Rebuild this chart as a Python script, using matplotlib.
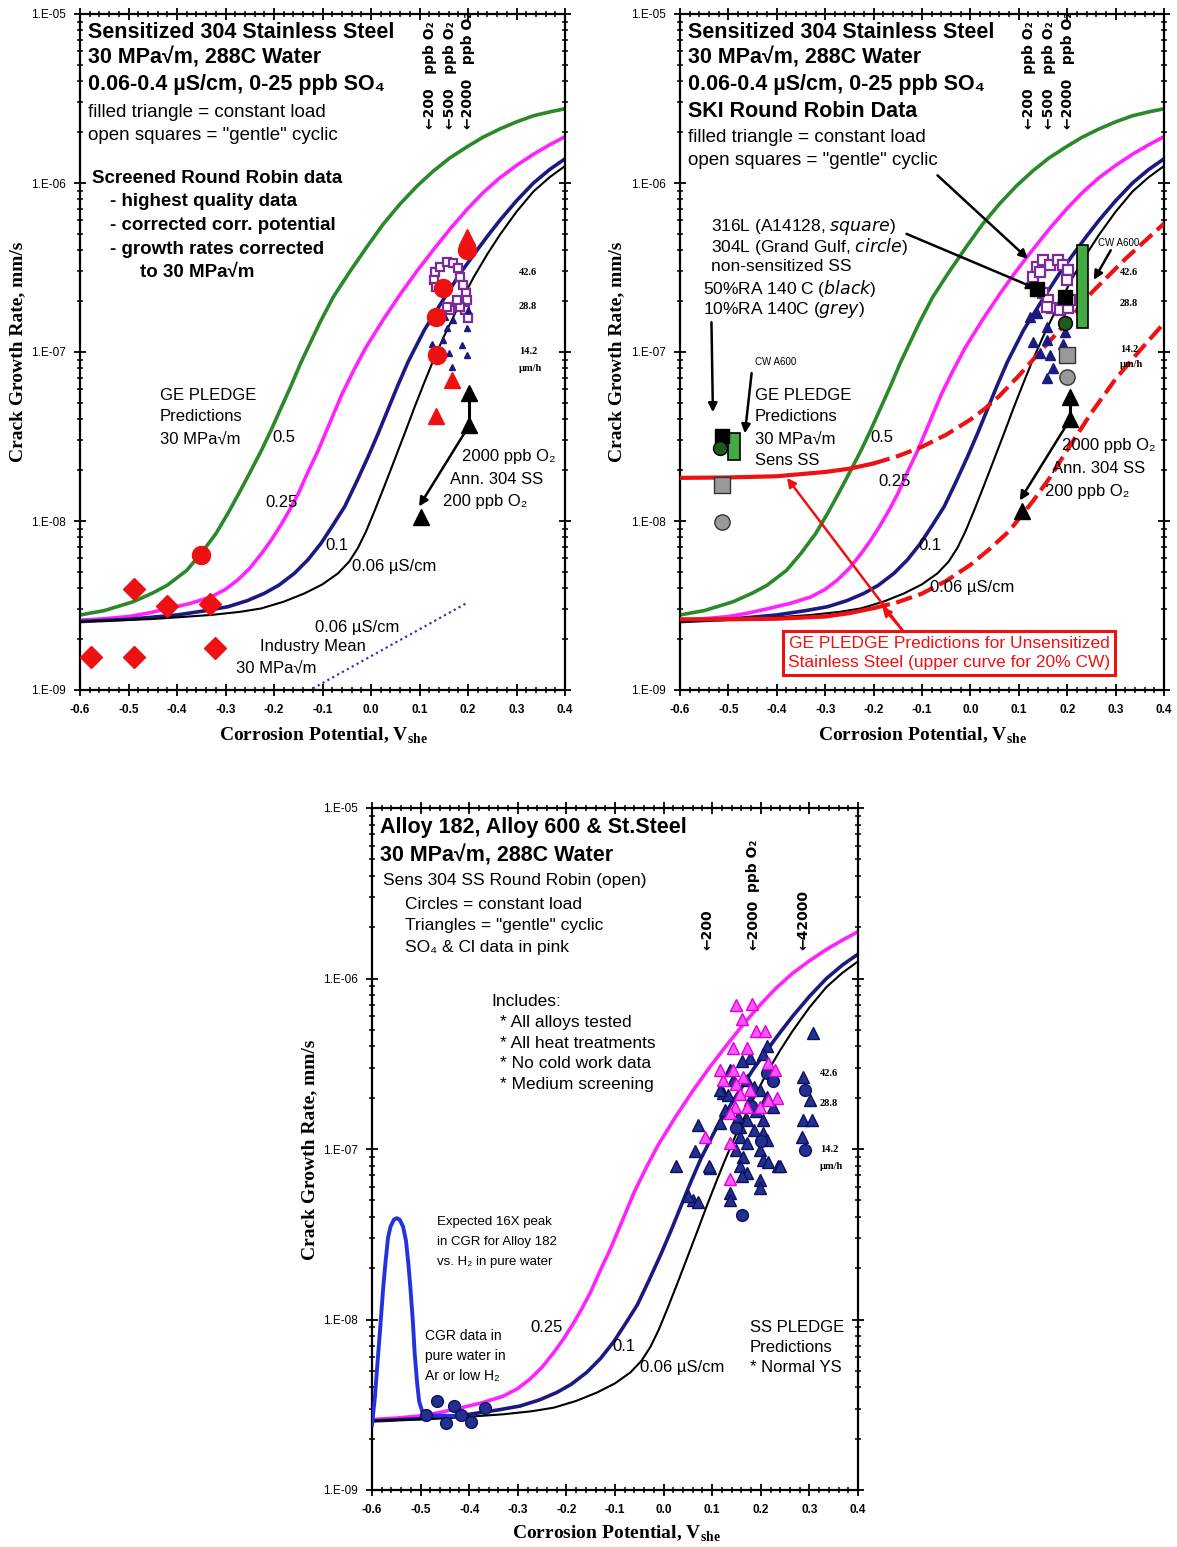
import matplotlib
matplotlib.use("Agg")
import matplotlib.pyplot as plt
from matplotlib.ticker import LogLocator, MultipleLocator, NullFormatter

plt.rcParams['font.family'] = ['Liberation Sans', 'DejaVu Sans']

# GE PLEDGE predictions, 30 MPa sqrt(m), per conductivity (uS/cm)
v_05 = [-0.6, -0.55, -0.49, -0.45, -0.42, -0.38, -0.35, -0.32, -0.295, -0.27, -0.247, -0.225, -0.206,
        -0.185, -0.165, -0.145, -0.128, -0.105, -0.078, -0.045, -0.009, 0.025, 0.06, 0.095, 0.129,
        0.163, 0.197, 0.23, 0.266, 0.3, 0.335, 0.37, 0.4]
cgr_05 = [2.78e-9, 2.95e-9, 3.33e-9, 3.75e-9, 4.17e-9, 5.10e-9, 6.44e-9, 8.40e-9, 1.11e-8, 1.50e-8,
          2.00e-8, 2.65e-8, 3.45e-8, 4.70e-8, 6.30e-8, 8.60e-8, 1.09e-7, 1.50e-7, 2.11e-7, 2.95e-7,
          4.17e-7, 5.70e-7, 7.52e-7, 9.60e-7, 1.18e-6, 1.41e-6, 1.63e-6, 1.86e-6, 2.09e-6, 2.30e-6,
          2.50e-6, 2.64e-6, 2.75e-6]
v_025 = [-0.6, -0.55, -0.5, -0.46, -0.42, -0.375, -0.33, -0.3, -0.275, -0.25, -0.225, -0.205, -0.185,
         -0.168, -0.15, -0.13, -0.11, -0.085, -0.06, -0.035, -0.01, 0.025, 0.06, 0.095, 0.13, 0.165,
         0.2, 0.232, 0.265, 0.3, 0.335, 0.368, 0.4]
cgr_025 = [2.59e-9, 2.64e-9, 2.72e-9, 2.85e-9, 3.02e-9, 3.24e-9, 3.55e-9, 3.94e-9, 4.47e-9, 5.25e-9,
           6.46e-9, 7.76e-9, 9.55e-9, 1.16e-8, 1.45e-8, 1.95e-8, 2.57e-8, 3.80e-8, 5.62e-8, 7.85e-8,
           1.07e-7, 1.55e-7, 2.19e-7, 3.02e-7, 4.07e-7, 5.43e-7, 7.08e-7, 8.81e-7, 1.07e-6, 1.27e-6,
           1.48e-6, 1.68e-6, 1.88e-6]
v_01 = [-0.6, -0.5, -0.4, -0.34, -0.295, -0.255, -0.22, -0.19, -0.158, -0.13, -0.103, -0.078, -0.054,
        -0.03, -0.006, 0.015, 0.035, 0.055, 0.077, 0.11, 0.149, 0.185, 0.218, 0.24, 0.266, 0.3, 0.335,
        0.368, 0.4]
cgr_01 = [2.54e-9, 2.62e-9, 2.78e-9, 2.95e-9, 3.11e-9, 3.38e-9, 3.73e-9, 4.17e-9, 4.90e-9, 5.90e-9,
          7.38e-9, 9.50e-9, 1.22e-8, 1.70e-8, 2.40e-8, 3.31e-8, 4.57e-8, 6.31e-8, 8.81e-8, 1.35e-7,
          2.04e-7, 2.95e-7, 3.98e-7, 4.84e-7, 6.03e-7, 7.85e-7, 1.00e-6, 1.20e-6, 1.39e-6]
v_006 = [-0.6, -0.45, -0.33, -0.27, -0.226, -0.18, -0.137, -0.1, -0.068, -0.045, -0.027, -0.01, 0.008,
         0.028, 0.049, 0.07, 0.09, 0.11, 0.127, 0.15, 0.177, 0.211, 0.24, 0.266, 0.3, 0.335, 0.368, 0.4]
cgr_006 = [2.54e-9, 2.63e-9, 2.78e-9, 2.90e-9, 3.04e-9, 3.33e-9, 3.73e-9, 4.22e-9, 4.90e-9, 5.75e-9,
           6.92e-9, 8.71e-9, 1.16e-8, 1.62e-8, 2.32e-8, 3.33e-8, 4.73e-8, 6.61e-8, 8.71e-8, 1.23e-7,
           1.78e-7, 2.75e-7, 3.80e-7, 4.95e-7, 6.76e-7, 8.91e-7, 1.08e-6, 1.26e-6]

# industry mean line, 0.06 uS/cm
v_ind = [-0.17, 0.2]
cgr_ind = [8.5e-10, 3.3e-9]

# panel 1: screened round robin data
diam_v = [-0.577, -0.489, -0.322, -0.489, -0.42, -0.331]
diam_cgr = [1.57e-9, 1.57e-9, 1.77e-9, 3.94e-9, 3.14e-9, 3.21e-9]
rcirc_v = [-0.35, 0.149, 0.135, 0.137, 0.197]
rcirc_cgr = [6.3e-9, 2.38e-7, 1.62e-7, 9.6e-8, 4.0e-7]
rtri_v = [0.197, 0.166, 0.135]
rtri_cgr = [4.8e-7, 6.8e-8, 4.2e-8]
ann_v = [0.104, 0.203, 0.203]
ann_cgr = [1.06e-8, 5.7e-8, 3.7e-8]
sq1_v = [0.132, 0.142, 0.156, 0.170, 0.180, 0.129, 0.135, 0.184, 0.190, 0.196,
         0.197, 0.194, 0.184, 0.163, 0.177, 0.201, 0.156]
sq1_cgr = [2.99e-7, 3.20e-7, 3.42e-7, 3.35e-7, 3.13e-7, 2.67e-7, 2.41e-7, 2.79e-7, 2.49e-7, 2.22e-7,
           2.03e-7, 1.77e-7, 1.85e-7, 1.77e-7, 2.03e-7, 1.58e-7, 1.85e-7]
tri1_v = [0.201, 0.197, 0.156, 0.149, 0.125, 0.187, 0.160, 0.197, 0.166, 0.153, 0.170]
tri1_cgr = [1.77e-7, 1.38e-7, 1.38e-7, 1.18e-7, 1.12e-7, 1.10e-7, 9.8e-8, 9.6e-8, 8.2e-8, 1.62e-7, 1.55e-7]

# panel 2: SKI round robin + unsensitized SS
sq2_v = [0.137, 0.151, 0.165, 0.182, 0.192, 0.202, 0.130, 0.144, 0.199, 0.151,
         0.161, 0.168, 0.185, 0.202, 0.206, 0.158]
sq2_cgr = [3.20e-7, 3.50e-7, 3.27e-7, 3.50e-7, 3.27e-7, 3.05e-7, 2.79e-7, 2.99e-7, 2.67e-7, 2.22e-7,
           2.03e-7, 1.81e-7, 1.77e-7, 1.81e-7, 2.03e-7, 1.85e-7]
tri2_v = [0.123, 0.137, 0.158, 0.130, 0.158, 0.192, 0.144, 0.165, 0.171, 0.158, 0.196]
tri2_cgr = [1.62e-7, 1.69e-7, 1.41e-7, 1.15e-7, 1.18e-7, 1.12e-7, 9.8e-8, 9.6e-8, 8.0e-8, 7.0e-8, 1.32e-7]
ann2_v = [0.107, 0.206, 0.206]
ann2_cgr = [1.15e-8, 5.4e-8, 4.0e-8]
blk_sq_v = [-0.514, 0.196, 0.138]
blk_sq_cgr = [3.2e-8, 2.12e-7, 2.37e-7]
dkg_circ_v = [-0.517, 0.196]
dkg_circ_cgr = [2.7e-8, 1.48e-7]
grey_sq_v = [-0.514, 0.199]
grey_sq_cgr = [1.63e-8, 9.6e-8]
grey_circ_v = [-0.514, 0.199]
grey_circ_cgr = [9.8e-9, 7.1e-8]
cw_v = [-0.489, 0.232]
cw_lo = [2.3e-8, 1.38e-7]
cw_hi = [3.3e-8, 4.3e-7]
uns_cw_v = [-0.6, -0.5, -0.4, -0.3, -0.25, -0.2, -0.15, -0.1, -0.05, 0.0, 0.03, 0.06, 0.1, 0.15, 0.2,
            0.25, 0.285, 0.32, 0.36, 0.4]
uns_cw_cgr = [1.80e-8, 1.81e-8, 1.84e-8, 1.95e-8, 2.04e-8, 2.19e-8, 2.42e-8, 2.75e-8, 3.24e-8, 3.98e-8,
              4.62e-8, 5.50e-8, 7.24e-8, 1.05e-7, 1.51e-7, 2.24e-7, 2.82e-7, 3.55e-7, 4.52e-7, 5.75e-7]
uns_v = [-0.6, -0.5, -0.4, -0.3, -0.25, -0.2, -0.15, -0.1, -0.05, 0.0, 0.04, 0.08, 0.13, 0.165, 0.2,
         0.225, 0.25, 0.275, 0.3, 0.325, 0.35, 0.375, 0.4]
uns_cgr = [2.62e-9, 2.62e-9, 2.64e-9, 2.72e-9, 2.85e-9, 3.05e-9, 3.31e-9, 3.72e-9, 4.42e-9, 5.50e-9,
           6.84e-9, 8.71e-9, 1.32e-8, 1.82e-8, 2.63e-8, 3.39e-8, 4.37e-8, 5.50e-8, 6.92e-8, 8.41e-8,
           1.02e-7, 1.23e-7, 1.48e-7]

# panel 3: Alloy 182 / 600 / SS
peak_v = [-0.6, -0.594, -0.589, -0.583, -0.577, -0.572, -0.567, -0.562, -0.555, -0.549, -0.543, -0.536,
          -0.53, -0.525, -0.521, -0.516, -0.512, -0.507, -0.503, -0.496, -0.49, -0.43]
peak_cgr = [2.41e-9, 3.5e-9, 5.43e-9, 9.0e-9, 1.53e-8, 2.2e-8, 3.02e-8, 3.5e-8, 3.85e-8, 3.93e-8, 3.85e-8,
            3.5e-8, 2.89e-8, 2.1e-8, 1.53e-8, 9.8e-9, 6.22e-9, 4.2e-9, 3.31e-9, 2.85e-9, 2.74e-9, 2.72e-9]
pink_v = [0.150, 0.181, 0.161, 0.191, 0.209, 0.143, 0.171, 0.215, 0.229, 0.143, 0.164, 0.150, 0.157,
          0.147, 0.171, 0.137, 0.233, 0.215, 0.198, 0.085, 0.137, 0.137, 0.123, 0.178, 0.116]
pink_cgr = [7.0e-7, 7.1e-7, 5.8e-7, 4.9e-7, 4.9e-7, 3.9e-7, 3.9e-7, 3.2e-7, 2.9e-7, 2.9e-7, 2.65e-7, 2.4e-7,
            2.1e-7, 1.77e-7, 1.77e-7, 1.62e-7, 2.0e-7, 1.94e-7, 1.77e-7, 1.18e-7, 1.08e-7, 6.7e-8,
            2.54e-7, 2.22e-7, 2.9e-7]
navy_tri_v = [0.308, 0.287, 0.301, 0.287, 0.305, 0.284, 0.071, 0.065, 0.095, 0.061, 0.071, 0.137, 0.137,
              0.198, 0.198, 0.236, 0.212, 0.205, 0.178, 0.161, 0.137, 0.123, 0.133, 0.171, 0.185, 0.198,
              0.212, 0.226, 0.178, 0.191, 0.154, 0.171, 0.205, 0.157, 0.185, 0.205, 0.157, 0.212, 0.171,
              0.150, 0.198, 0.164, 0.205, 0.157, 0.171, 0.116, 0.126, 0.143, 0.116, 0.215, 0.161, 0.025,
              0.051, 0.093, 0.239]
navy_tri_cgr = [4.8e-7, 2.65e-7, 1.94e-7, 1.48e-7, 1.48e-7, 1.18e-7, 1.38e-7, 9.7e-8, 7.7e-8, 5.0e-8, 4.9e-8,
                5.5e-8, 5.0e-8, 6.6e-8, 5.9e-8, 7.9e-8, 4.0e-7, 3.6e-7, 3.4e-7, 3.3e-7, 2.9e-7, 2.12e-7,
                2.07e-7, 2.54e-7, 2.32e-7, 2.22e-7, 2.03e-7, 1.77e-7, 1.94e-7, 1.66e-7, 1.55e-7, 1.48e-7,
                1.48e-7, 1.35e-7, 1.29e-7, 1.24e-7, 1.18e-7, 1.13e-7, 1.08e-7, 9.9e-8, 9.9e-8, 9.0e-8,
                8.6e-8, 7.9e-8, 7.2e-8, 1.42e-7, 1.69e-7, 2.54e-7, 2.22e-7, 8.4e-8, 6.9e-8, 8.0e-8,
                5.3e-8, 8.0e-8, 8.0e-8]
navy_circ_v = [0.291, 0.291, 0.162, 0.212, 0.18, 0.2, 0.15, 0.225,
               -0.467, -0.489, -0.447, -0.431, -0.416, -0.397, -0.368]
navy_circ_cgr = [2.22e-7, 9.9e-8, 4.1e-8, 2.8e-7, 1.78e-7, 1.12e-7, 1.32e-7, 2.5e-7,
                 3.31e-9, 2.76e-9, 2.47e-9, 3.09e-9, 2.76e-9, 2.52e-9, 3.02e-9]

o2_top_v = [0.122, 0.163, 0.201]
o2_top_lab = ["200", "500", "2000"]
o2_bot_v = [0.09, 0.184, 0.287]
o2_bot_lab = ["200", "2000", "42000"]
ytick_vals = [1e-9, 1e-8, 1e-7, 1e-6, 1e-5]
ytick_labs = ["1.E-09", "1.E-08", "1.E-07", "1.E-06", "1.E-05"]
xtick_vals = [-0.6, -0.5, -0.4, -0.3, -0.2, -0.1, 0.0, 0.1, 0.2, 0.3, 0.4]
xtick_labs = ["-0.6", "-0.5", "-0.4", "-0.3", "-0.2", "-0.1", "0.0", "0.1", "0.2", "0.3", "0.4"]

GREEN = '#2a8a2a'
MAGENTA = '#ff22ff'
NAVY = '#1a1a80'
RED = '#ee1111'
PURPLE = '#7a2a9a'
SERIF = ['Liberation Serif', 'DejaVu Serif']

W, H = 1177, 1547
fig = plt.figure(figsize=(W / 100, H / 100), dpi=100)


def setup(ax):
    ax.set_yscale('log')
    ax.set_xlim(-0.6, 0.4)
    ax.set_ylim(1e-9, 1e-5)
    ax.set_yticks(ytick_vals, labels=ytick_labs)
    ax.yaxis.set_minor_locator(LogLocator(base=10, subs=range(2, 10)))
    ax.yaxis.set_minor_formatter(NullFormatter())
    ax.set_xticks(xtick_vals, labels=xtick_labs)
    ax.xaxis.set_minor_locator(MultipleLocator(0.02))
    ax.tick_params(which='both', direction='inout', top=True, right=True)
    ax.tick_params(which='major', length=8, width=1.3, labelsize=8.5, pad=6)
    ax.tick_params(which='minor', length=4, width=1.1)
    for lab in ax.get_xticklabels():
        lab.set_fontweight('bold')
    for sp in ax.spines.values():
        sp.set_linewidth(1.6)


def curves(ax, green=True):
    if green:
        ax.plot(v_05, cgr_05, color=GREEN, lw=2.6, zorder=2)
    ax.plot(v_025, cgr_025, color=MAGENTA, lw=2.6, zorder=2)
    ax.plot(v_01, cgr_01, color=NAVY, lw=2.6, zorder=2)
    ax.plot(v_006, cgr_006, color='black', lw=1.5, zorder=2)


def rate_labels(ax, x, ys):
    for s, y in zip(["42.6", "28.8", "14.2", "\u00b5m/h"], ys):
        ax.text(x, y, s, transform=ax.transAxes, fontsize=7.5, fontweight='bold',
                family=SERIF, ha='left', va='center')


def o2_arrows(ax, vs, labs, y, fs=10):
    for v, lab in zip(vs, labs):
        ax.text(v, y, "\u2190" + lab + "   ppb O\u2082", rotation=90, ha='center', va='bottom',
                fontsize=fs, fontweight='bold', family=['DejaVu Sans'])


def ta(ax, x, y, s, **kw):
    kw.setdefault('fontsize', 12)
    ax.text(x, y, s, transform=ax.transAxes, ha=kw.pop('ha', 'left'), va=kw.pop('va', 'center'), **kw)


arrow_k = dict(arrowstyle='-|>', color='black', lw=1.8, mutation_scale=13, shrinkA=0, shrinkB=0)
arrow_r = dict(arrowstyle='-|>', color=RED, lw=1.8, mutation_scale=13, shrinkA=0, shrinkB=0)
DASH = (0, (4, 1.6))

# ---------------- panel 1 ----------------
ax1 = fig.add_axes([80 / W, 1 - 690 / H, 485 / W, 676 / H])
setup(ax1)
curves(ax1)
ax1.plot(v_ind, cgr_ind, color='#3333bb', lw=1.6, ls=(0, (1, 1.5)))
ax1.plot(sq1_v, sq1_cgr, 's', ms=6, mfc='white', mec=PURPLE, mew=1.6, ls='none', zorder=4)
ax1.plot(tri1_v, tri1_cgr, '^', ms=5, color=NAVY, ls='none', zorder=4)
ax1.plot(diam_v, diam_cgr, 'D', ms=11, color=RED, ls='none', zorder=5)
ax1.plot(rcirc_v, rcirc_cgr, 'o', ms=13, color=RED, ls='none', zorder=5)
ax1.plot(rtri_v, rtri_cgr, '^', ms=12, color=RED, ls='none', zorder=5)
ax1.plot(ann_v[1:], ann_cgr[1:], 'k-', lw=2.2, zorder=5)
ax1.plot(ann_v, ann_cgr, '^', ms=12, color='black', ls='none', zorder=6)
ax1.annotate('', xy=(ann_v[0] - 0.005, ann_cgr[0] * 1.15), xytext=(ann_v[2], ann_cgr[2]), arrowprops=arrow_k)

ta(ax1, 0.0165, 0.973, "Sensitized 304 Stainless Steel", fontsize=15.5, fontweight='bold')
ta(ax1, 0.0165, 0.935, "30 MPa\u221am, 288C Water", fontsize=15.5, fontweight='bold')
ta(ax1, 0.0165, 0.895, "0.06-0.4 \u00b5S/cm, 0-25 ppb SO\u2084", fontsize=15.5, fontweight='bold')
ta(ax1, 0.0165, 0.854, "filled triangle = constant load", fontsize=13.5)
ta(ax1, 0.0165, 0.821, "open squares = \"gentle\" cyclic", fontsize=13.5)
ta(ax1, 0.025, 0.757, "Screened Round Robin data", fontsize=13.5, fontweight='bold')
ta(ax1, 0.062, 0.722, "- highest quality data", fontsize=13.5, fontweight='bold')
ta(ax1, 0.062, 0.687, "- corrected corr. potential", fontsize=13.5, fontweight='bold')
ta(ax1, 0.062, 0.652, "- growth rates corrected", fontsize=13.5, fontweight='bold')
ta(ax1, 0.124, 0.617, "to 30 MPa\u221am", fontsize=13.5, fontweight='bold')
ta(ax1, 0.165, 0.436, "GE PLEDGE", fontsize=12)
ta(ax1, 0.165, 0.404, "Predictions", fontsize=12)
ta(ax1, 0.165, 0.372, "30 MPa\u221am", fontsize=12)
ta(ax1, 0.396, 0.373, "0.5", fontsize=12)
ta(ax1, 0.383, 0.278, "0.25", fontsize=12)
ta(ax1, 0.505, 0.214, "0.1", fontsize=12)
ta(ax1, 0.561, 0.183, "0.06 \u00b5S/cm", fontsize=12)
ta(ax1, 0.485, 0.093, "0.06 \u00b5S/cm", fontsize=12)
ta(ax1, 0.371, 0.065, "Industry Mean", fontsize=12)
ta(ax1, 0.322, 0.033, "30 MPa\u221am", fontsize=12)
ta(ax1, 0.788, 0.346, "2000 ppb O\u2082", fontsize=12)
ta(ax1, 0.763, 0.311, "Ann. 304 SS", fontsize=12)
ta(ax1, 0.748, 0.279, "200 ppb O\u2082", fontsize=12)
rate_labels(ax1, 0.905, [0.617, 0.568, 0.5, 0.476])
o2_arrows(ax1, o2_top_v, o2_top_lab, 2.1e-6)

# ---------------- panel 2 ----------------
ax2 = fig.add_axes([680 / W, 1 - 690 / H, 484 / W, 676 / H])
setup(ax2)
curves(ax2)
ax2.plot(uns_cw_v[:6], uns_cw_cgr[:6], color=RED, lw=3, zorder=3)
ax2.plot(uns_cw_v[5:], uns_cw_cgr[5:], color=RED, lw=3, ls=DASH, zorder=3)
ax2.plot(uns_v[:6], uns_cgr[:6], color=RED, lw=3, zorder=3)
ax2.plot(uns_v[5:], uns_cgr[5:], color=RED, lw=3, ls=DASH, zorder=3)
ax2.plot(sq2_v, sq2_cgr, 's', ms=6.5, mfc='white', mec=PURPLE, mew=1.6, ls='none', zorder=4)
ax2.plot(tri2_v, tri2_cgr, '^', ms=6.5, color=NAVY, ls='none', zorder=4)
ax2.bar(cw_v, [h - l for h, l in zip(cw_hi, cw_lo)], bottom=cw_lo, width=0.024,
        color='#44aa44', edgecolor='black', lw=1.2, zorder=5)
ax2.plot(blk_sq_v, blk_sq_cgr, 's', ms=10, color='black', ls='none', zorder=6)
ax2.plot(dkg_circ_v, dkg_circ_cgr, 'o', ms=10, color='#1e5a1e', mec='black', ls='none', zorder=6)
ax2.plot(grey_sq_v, grey_sq_cgr, 's', ms=11, color='#999999', mec='#333333', ls='none', zorder=6)
ax2.plot(grey_circ_v, grey_circ_cgr, 'o', ms=11, color='#999999', mec='#333333', ls='none', zorder=6)
ax2.plot(ann2_v[1:], ann2_cgr[1:], 'k-', lw=2.2, zorder=5)
ax2.plot(ann2_v, ann2_cgr, '^', ms=12, color='black', ls='none', zorder=6)
ax2.annotate('', xy=(ann2_v[0] - 0.005, ann2_cgr[0] * 1.15), xytext=(ann2_v[2], ann2_cgr[2]), arrowprops=arrow_k)
ax2.annotate('', xy=(0.119, 3.56e-7), xytext=(-0.068, 1.11e-6), arrowprops=arrow_k)
ax2.annotate('', xy=(0.136, 2.37e-7), xytext=(-0.132, 5.0e-7), arrowprops=arrow_k)
ax2.annotate('', xy=(-0.532, 4.4e-8), xytext=(-0.535, 1.5e-7), arrowprops=arrow_k)
ax2.annotate('', xy=(-0.466, 3.3e-8), xytext=(-0.452, 7.5e-8), arrowprops=arrow_k)
ax2.annotate('', xy=(0.255, 2.67e-7), xytext=(0.29, 4.0e-7), arrowprops=arrow_k)
ax2.annotate('', xy=(-0.379, 1.8e-8), xytext=(-0.14, 2.25e-9), arrowprops=arrow_r)
ax2.annotate('', xy=(-0.182, 3.1e-9), xytext=(-0.14, 2.25e-9), arrowprops=arrow_r)

ta(ax2, 0.0165, 0.973, "Sensitized 304 Stainless Steel", fontsize=15.5, fontweight='bold')
ta(ax2, 0.0165, 0.935, "30 MPa\u221am, 288C Water", fontsize=15.5, fontweight='bold')
ta(ax2, 0.0165, 0.895, "0.06-0.4 \u00b5S/cm, 0-25 ppb SO\u2084", fontsize=15.5, fontweight='bold')
ta(ax2, 0.0165, 0.856, "SKI Round Robin Data", fontsize=15.5, fontweight='bold')
ta(ax2, 0.0165, 0.817, "filled triangle = constant load", fontsize=13.5)
ta(ax2, 0.0165, 0.784, "open squares = \"gentle\" cyclic", fontsize=13.5)
ta(ax2, 0.065, 0.685, "316L (A14128, $\\it{square}$)", fontsize=12.5)
ta(ax2, 0.065, 0.656, "304L (Grand Gulf, $\\it{circle}$)", fontsize=12.5)
ta(ax2, 0.065, 0.626, "non-sensitized SS", fontsize=12.5)
ta(ax2, 0.048, 0.594, "50%RA 140 C ($\\it{black}$)", fontsize=12.5)
ta(ax2, 0.048, 0.562, "10%RA 140C ($\\it{grey}$)", fontsize=12.5)
ta(ax2, 0.155, 0.485, "CW A600", fontsize=7)
ta(ax2, 0.906, 0.661, "CW A600", fontsize=7, ha='center')
ta(ax2, 0.155, 0.436, "GE PLEDGE", fontsize=12)
ta(ax2, 0.155, 0.404, "Predictions", fontsize=12)
ta(ax2, 0.155, 0.372, "30 MPa\u221am", fontsize=12)
ta(ax2, 0.155, 0.340, "Sens SS", fontsize=12)
ta(ax2, 0.393, 0.373, "0.5", fontsize=12)
ta(ax2, 0.409, 0.309, "0.25", fontsize=12)
ta(ax2, 0.492, 0.214, "0.1", fontsize=12)
ta(ax2, 0.517, 0.151, "0.06 \u00b5S/cm", fontsize=12)
ta(ax2, 0.789, 0.362, "2000 ppb O\u2082", fontsize=12)
ta(ax2, 0.769, 0.327, "Ann. 304 SS", fontsize=12)
ta(ax2, 0.754, 0.293, "200 ppb O\u2082", fontsize=12)
ta(ax2, 0.556, 0.055, "GE PLEDGE Predictions for Unsensitized\nStainless Steel (upper curve for 20% CW)",
   fontsize=12.5, color=RED, ha='center', linespacing=1.3,
   bbox=dict(boxstyle='square,pad=0.3', fc='white', ec=RED, lw=2.2))
rate_labels(ax2, 0.909, [0.618, 0.572, 0.504, 0.482])
o2_arrows(ax2, o2_top_v, o2_top_lab, 2.1e-6)

# ---------------- panel 3 ----------------
ax3 = fig.add_axes([372 / W, 1 - 1490 / H, 486 / W, 682 / H])
setup(ax3)
curves(ax3, green=False)
ax3.plot(peak_v, peak_cgr, color='#2233dd', lw=2.8, zorder=3)
ax3.plot(navy_tri_v, navy_tri_cgr, '^', ms=8, mfc='#23308f', mec='#0b1060', ls='none', zorder=4)
ax3.plot(navy_circ_v, navy_circ_cgr, 'o', ms=8.5, mfc='#23308f', mec='#0b1060', ls='none', zorder=4)
ax3.plot(pink_v, pink_cgr, '^', ms=8, mfc='#ff55ff', mec='#dd00dd', ls='none', zorder=5)

ta(ax3, 0.016, 0.971, "Alloy 182, Alloy 600 & St.Steel", fontsize=15.5, fontweight='bold')
ta(ax3, 0.016, 0.930, "30 MPa\u221am, 288C Water", fontsize=15.5, fontweight='bold')
ta(ax3, 0.022, 0.894, "Sens 304 SS Round Robin (open)", fontsize=12.5)
ta(ax3, 0.068, 0.859, "Circles = constant load", fontsize=12.5)
ta(ax3, 0.068, 0.827, "Triangles = \"gentle\" cyclic", fontsize=12.5)
ta(ax3, 0.068, 0.795, "SO\u2084 & Cl data in pink", fontsize=12.5)
ta(ax3, 0.245, 0.717, "Includes:", fontsize=12.5)
ta(ax3, 0.263, 0.686, "* All alloys tested", fontsize=12.5)
ta(ax3, 0.263, 0.655, "* All heat treatments", fontsize=12.5)
ta(ax3, 0.263, 0.625, "* No cold work data", fontsize=12.5)
ta(ax3, 0.263, 0.594, "* Medium screening", fontsize=12.5)
ta(ax3, 0.134, 0.393, "Expected 16X peak", fontsize=9.5)
ta(ax3, 0.134, 0.364, "in CGR for Alloy 182", fontsize=9.5)
ta(ax3, 0.134, 0.334, "vs. H\u2082 in pure water", fontsize=9.5)
ta(ax3, 0.109, 0.226, "CGR data in", fontsize=10)
ta(ax3, 0.109, 0.196, "pure water in", fontsize=10)
ta(ax3, 0.109, 0.167, "Ar or low H\u2082", fontsize=10)
ta(ax3, 0.325, 0.239, "0.25", fontsize=12)
ta(ax3, 0.494, 0.210, "0.1", fontsize=12)
ta(ax3, 0.551, 0.179, "0.06 \u00b5S/cm", fontsize=12)
ta(ax3, 0.778, 0.239, "SS PLEDGE", fontsize=12)
ta(ax3, 0.778, 0.209, "Predictions", fontsize=12)
ta(ax3, 0.778, 0.179, "* Normal YS", fontsize=12)
rate_labels(ax3, 0.922, [0.611, 0.567, 0.499, 0.475])
for v, lab in zip(o2_bot_v, o2_bot_lab):
    ax3.text(v, 1.47e-6, "\u2190" + lab, rotation=90, ha='center', va='bottom',
             fontsize=10, fontweight='bold', family=['DejaVu Sans'])
ax3.text(o2_bot_v[1], 4.6e-6, "ppb O\u2082", rotation=90, ha='center', va='center',
         fontsize=10, fontweight='bold', family=['DejaVu Sans'])

# axis titles
for x, y in [(18, 352), (617, 352), (310, 1150)]:
    fig.text(x / W, 1 - y / H, "Crack Growth Rate, mm/s", rotation=90, ha='center', va='center',
             fontsize=14, fontweight='bold', family=SERIF)
for x, y in [(323, 736), (922, 736), (616, 1534)]:
    fig.text(x / W, 1 - y / H, "Corrosion Potential, V$_{\\mathregular{she}}$", ha='center', va='center',
             fontsize=14, fontweight='bold', family=SERIF)

fig.savefig("out.png", dpi=100)
